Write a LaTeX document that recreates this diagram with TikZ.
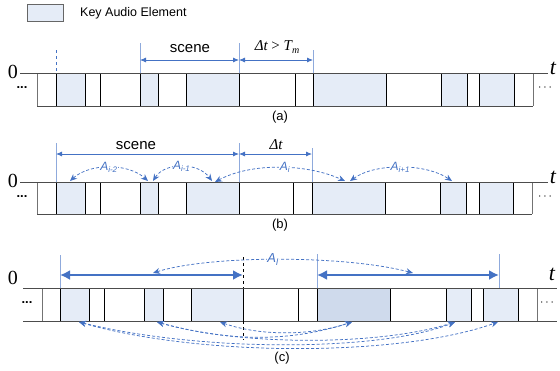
\documentclass[tikz,border=0pt]{standalone}
\usepackage{fontspec}
\setmainfont{Liberation Sans}
\newfontfamily\seriffont{Liberation Serif}
\usetikzlibrary{arrows.meta}
\definecolor{keyfill}{HTML}{E5ECF7}
\definecolor{keydark}{HTML}{CFDAEC}
\definecolor{ablue}{HTML}{4472C4}
\definecolor{lblue}{HTML}{8FAADC}
\tikzset{
  axisline/.style={line width=0.9pt, black!70},
  divline/.style={line width=0.8pt, black},
  endline/.style={line width=0.9pt, black!55},
  guide/.style={lblue, line width=0.8pt},
  dimarrow/.style={ablue, line width=0.8pt, {Latex[length=6pt,width=5pt]}-{Latex[length=6pt,width=5pt]}},
  relarrow/.style={ablue, line width=0.75pt, dash pattern=on 3pt off 2pt, {Stealth[length=7pt,width=6pt]}-{Stealth[length=7pt,width=6pt]}},
  bigarrow/.style={ablue, line width=2.6pt, {Latex[length=10pt,width=10pt]}-{Latex[length=10pt,width=10pt]}},
  lbl/.style={inner sep=0.5pt, fill=white, font=\fontsize{12}{13}\selectfont\itshape},
  zero/.style={font=\seriffont\fontsize{20}{20}\selectfont, inner sep=0pt},
  tee/.style={font=\seriffont\itshape\fontsize{22}{22}\selectfont, inner sep=0pt},
  dots/.style={font=\fontsize{13}{13}\selectfont, inner sep=0pt},
  captxt/.style={font=\fontsize{13}{13}\selectfont, inner sep=0pt},
  scenetxt/.style={font=\fontsize{15}{15}\selectfont, inner sep=0pt},
  dttxt/.style={font=\seriffont\fontsize{15}{15}\selectfont, inner sep=0pt},
}
\begin{document}
\begin{tikzpicture}[x=1pt,y=-1pt]
\useasboundingbox (0,0) rectangle (560,370);
% legend
\draw[fill=keyfill, draw=black!60, line width=0.7pt] (27,4) rectangle (63,21);
\node[anchor=west, font=\fontsize{12.5}{13}\selectfont, inner sep=0pt] (legend) at (80,13) {Key Audio Element};

% ---------- row (a) ----------
\foreach \a/\b in {56/85,140/158,186/239,313/386,441/467,479/514}
  \fill[keyfill] (\a,73) rectangle (\b,106);
\foreach \x in {56,85,100,140,158,186,239,295,313,386,441,467,479,514}
  \draw[divline] (\x,73) -- (\x,106);
\draw[endline] (37,73) -- (37,106);
\draw[endline] (533,73) -- (533,106);
\draw[axisline] (20,73) -- (548,73);
\draw[axisline] (37,106) -- (533,106);
\node[zero] (za) at (13,72) {0};
\node[tee] (ta) at (553,68) {t};
\node[dots] (dla) at (22,88) {\textbf{...}};
\node[dots] (dra) at (545,88) {$\cdots$};
\node[captxt] (capa) at (280,117) {(a)};
\draw[ablue, dashed, line width=0.8pt] (56,50) -- (56,73);
\draw[guide] (140,43) -- (140,73);
\draw[guide] (239,43) -- (239,73);
\draw[guide] (313,50) -- (313,73);
\coordinate (a1) at (140,60);
\coordinate (a2) at (239,60);
\coordinate (a3) at (313,60);
\draw[dimarrow] (a1) -- (a2);
\draw[dimarrow] (a2) -- (a3);
\node[scenetxt] (scenea) at (190,49) {scene};
\node[dttxt] (dta) at (277,47) {\itshape Δt\upshape\ >\ \itshape T\raisebox{-0.25em}{\fontsize{10}{10}\selectfont m}};

% ---------- row (b) ----------
\foreach \a/\b in {56/85,140/158,186/239,312/385,440/466,479/513}
  \fill[keyfill] (\a,182) rectangle (\b,214);
\foreach \x in {56,85,100,140,158,186,239,293,312,385,440,466,479,513}
  \draw[divline] (\x,182) -- (\x,214);
\draw[endline] (37,182) -- (37,214);
\draw[endline] (532,182) -- (532,214);
\draw[axisline] (20,182) -- (548,182);
\draw[axisline] (37,214) -- (532,214);
\node[zero] (zb) at (13,181) {0};
\node[tee] (tb) at (553,177) {t};
\node[dots] (dlb) at (22,197) {\textbf{...}};
\node[dots] (drb) at (545,197) {$\cdots$};
\node[captxt] (capb) at (280,225) {(b)};
\draw[guide] (56,143) -- (56,182);
\draw[guide] (239,143) -- (239,182);
\draw[guide] (312,148) -- (312,182);
\coordinate (b1) at (56,154);
\coordinate (b2) at (239,154);
\coordinate (b3) at (312,154);
\draw[dimarrow] (b1) -- (b2);
\draw[dimarrow] (b2) -- (b3);
\node[scenetxt] (sceneb) at (136,146) {scene};
\node[dttxt] (dtb) at (276,145) {\itshape Δt};
\coordinate (k1) at (70,181);
\coordinate (k2l) at (148,181);
\coordinate (k2r) at (153,181);
\coordinate (k3l) at (212,181);
\coordinate (k3r) at (215,182);
\coordinate (k4l) at (345,181);
\coordinate (k4r) at (350,181);
\coordinate (k5) at (452,181);
\draw[relarrow] (k1) .. controls (90,163) and (128,163) .. node[lbl, pos=0.5] (ai2) {A\textsubscript{i-2}} (k2l);
\draw[relarrow] (k2r) .. controls (165,162) and (198,162) .. node[lbl, pos=0.5] (ai1) {A\textsubscript{i-1}} (k3l);
\draw[relarrow] (k3r) .. controls (250,163) and (305,163) .. node[lbl, pos=0.55] (ai) {A\textsubscript{i}} (k4l);
\draw[relarrow] (k4r) .. controls (375,163) and (425,163) .. node[lbl, pos=0.5] (ai3) {A\textsubscript{i+1}} (k5);

% ---------- row (c) ----------
\foreach \a/\b in {60/89,144/163,191/243,446/471,483/518}
  \fill[keyfill] (\a,288) rectangle (\b,321);
\fill[keydark] (317,288) rectangle (390,321);
\foreach \x in {60,89,104,144,163,191,243,298,317,390,446,471,483,518}
  \draw[divline] (\x,288) -- (\x,321);
\draw[endline] (42,288) -- (42,321);
\draw[endline] (537,288) -- (537,321);
\draw[axisline] (23,288) -- (557,288);
\draw[axisline] (23,321) -- (557,321);
\node[zero] (zc) at (13,278) {0};
\node[tee] (tc) at (552,274) {t};
\node[dots] (dlc) at (27,303) {\textbf{...}};
\node[dots] (drc) at (547,303) {$\cdots$};
\node[captxt] (capc) at (282,358) {(c)};
\draw[black, dashed, line width=0.7pt] (243,257) -- (243,288);
\draw[black, dashed, line width=0.7pt] (243,321) -- (243,340);
\draw[guide] (60,255) -- (60,288);
\draw[guide] (317,254) -- (317,288);
\draw[guide] (499,254) -- (499,288);
\coordinate (c1) at (60,275);
\coordinate (c2) at (243,275);
\coordinate (c3) at (317,275);
\coordinate (c4) at (499,275);
\draw[relarrow] (153,273) .. controls (210,255) and (345,255) .. node[lbl, pos=0.48, font=\fontsize{13}{13}\selectfont\itshape] (al) {A\textsubscript{l}} (413,273);
\draw[bigarrow] (c1) -- (c2);
\draw[bigarrow] (c3) -- (c4);
\coordinate (l1) at (79,322);
\coordinate (l2) at (157,322);
\coordinate (l3) at (220,322);
\coordinate (r1) at (352,322);
\coordinate (r2) at (455,322);
\coordinate (r3) at (498,322);
\draw[relarrow] (l3) .. controls (260,336) and (310,336) .. (r1);
\draw[relarrow] (l2) .. controls (230,342) and (290,342) .. (r1);
\draw[relarrow] (l2) .. controls (240,346) and (380,346) .. (r2);
\draw[relarrow] (l1) .. controls (200,352) and (380,352) .. (r2);
\draw[relarrow] (l1) .. controls (200,357) and (400,357) .. (r3);
\end{tikzpicture}
\end{document}
